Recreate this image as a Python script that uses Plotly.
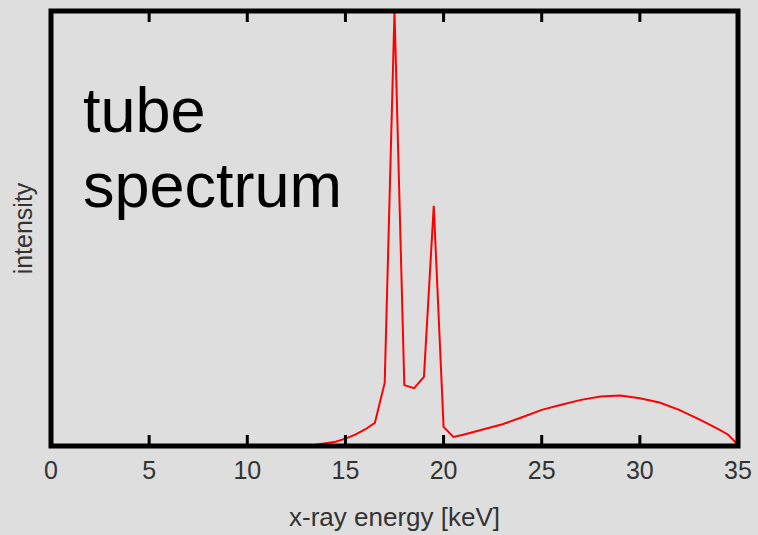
import plotly.graph_objects as go

energy_kev = [12, 12.5, 13, 13.5, 14, 14.5, 15, 15.5, 16, 16.5, 17, 17.5, 18, 18.5, 19, 19.5,
              20, 20.5, 21, 22, 23, 24, 25, 26, 27, 28, 29, 30, 31, 32, 33, 34, 34.5, 35]
intensity = [0, 0, 0.1, 0.3, 0.6, 1.0, 1.7, 2.6, 3.8, 5.3, 14.5, 100, 14, 13.3, 15.9, 55.2,
             4.4, 2.1, 2.6, 3.8, 5.0, 6.6, 8.3, 9.5, 10.6, 11.4, 11.6, 11.0, 10.0, 8.3, 6.2, 3.9, 2.6, 0.3]
x_ticks = [0, 5, 10, 15, 20, 25, 30, 35]

BG = "#dedede"
FONT = "Liberation Sans, Arial, sans-serif"
PLOT_H = 535 - 11 - 89
TICK_LEN = 11 / PLOT_H

fig = go.Figure()
fig.add_trace(go.Scatter(x=energy_kev, y=intensity, mode="lines",
                         line=dict(color="#ff0000", width=2), showlegend=False,
                         hoverinfo="skip"))

# inward tick marks on bottom and top edges, placed at the x tick values
for t in x_ticks:
    for y0, y1 in ((0, TICK_LEN), (1, 1 - TICK_LEN)):
        fig.add_shape(type="line", xref="x", yref="paper", x0=t, x1=t, y0=y0, y1=y1,
                      line=dict(color="black", width=3), layer="above")

# plot frame, centred on the plot-area edges
fig.add_shape(type="rect", xref="paper", yref="paper", x0=0, x1=1, y0=0, y1=1,
              line=dict(color="black", width=5), fillcolor="rgba(0,0,0,0)", layer="above")

fig.update_layout(
    width=758, height=535,
    margin=dict(l=51, r=20, t=11, b=89),
    paper_bgcolor=BG, plot_bgcolor=BG,
    font=dict(family=FONT, size=26, color="#333333"),
    xaxis=dict(range=[0, 35], tickmode="array", tickvals=x_ticks, ticktext=[str(v) for v in x_ticks],
               automargin=False, showgrid=False, zeroline=False, showline=False,
               ticks="", ticklabelstandoff=7,
               tickfont=dict(size=25, color="#333333"),
               title=dict(text="x-ray energy [keV]", font=dict(size=26, color="#333333"), standoff=24)),
    yaxis=dict(range=[0, 100], automargin=False, showgrid=False, zeroline=False, showline=False,
               ticks="", showticklabels=False,
               title=dict(text="intensity", font=dict(size=25, color="#333333"), standoff=10)),
    annotations=[
        dict(text="tube", xref="paper", yref="paper", x=0.043, y=0.772, xanchor="left",
             yanchor="middle", showarrow=False, font=dict(size=63, color="black", family=FONT)),
        dict(text="spectrum", xref="paper", yref="paper", x=0.043, y=0.601, xanchor="left",
             yanchor="middle", showarrow=False, font=dict(size=63, color="black", family=FONT)),
    ],
)

fig.write_html("out.html", config={"displayModeBar": False},
               post_script="document.body.style.margin='0';document.body.style.background='%s';" % BG)
